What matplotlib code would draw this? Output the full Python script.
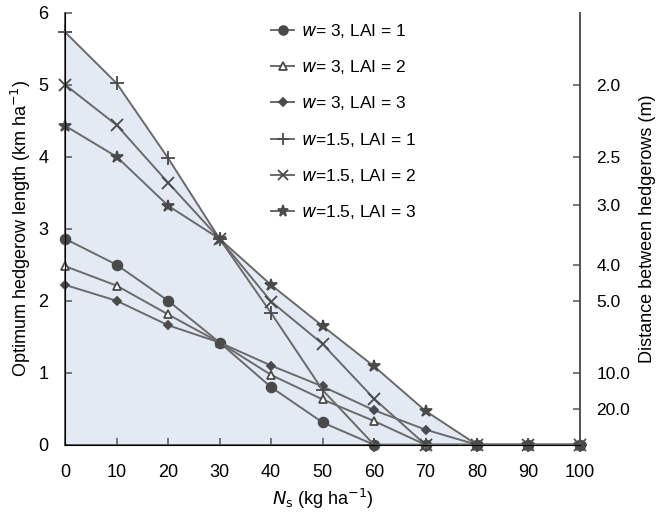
import matplotlib.pyplot as plt
import numpy as np

# nitrogen supply (kg/ha)
ns = [0, 10, 20, 30, 40, 50, 60, 70, 80, 90, 100]

# optimum hedgerow length (km/ha)
w3_lai1 = [2.86, 2.50, 2.00, 1.42, 0.80, 0.31, 0, 0, 0, 0, 0]
w3_lai2 = [2.48, 2.21, 1.81, 1.42, 0.97, 0.63, 0.33, 0, 0, 0, 0]
w3_lai3 = [2.22, 2.00, 1.66, 1.42, 1.10, 0.81, 0.48, 0.21, 0, 0, 0]
w15_lai1 = [5.73, 5.02, 3.98, 2.86, 1.83, 0.76, 0, 0, 0, 0, 0]
w15_lai2 = [5.00, 4.44, 3.64, 2.86, 1.99, 1.40, 0.64, 0, 0, 0, 0]
w15_lai3 = [4.43, 4.00, 3.32, 2.86, 2.22, 1.65, 1.09, 0.47, 0, 0, 0]

labels = ["$w$= 3, LAI = 1", "$w$= 3, LAI = 2", "$w$= 3, LAI = 3",
          "$w$=1.5, LAI = 1", "$w$=1.5, LAI = 2", "$w$=1.5, LAI = 3"]
markers = ["o", "^", "D", "+", "x", "*"]

# right axis: spacing between hedgerows (m)
dist_ticks = [2.0, 2.5, 3.0, 4.0, 5.0, 10.0, 20.0]

plt.rcParams['font.family'] = ['Liberation Sans', 'DejaVu Sans']

fig = plt.figure(figsize=(6.59, 5.13), dpi=100)
ax = fig.add_axes([0.099, 0.133, 0.781, 0.842])

series = [w3_lai1, w3_lai2, w3_lai3, w15_lai1, w15_lai2, w15_lai3]

# light blue shading under the curves, like the scan
env = np.max(np.array(series), axis=0)
ax.fill_between(ns, 0, env, color="#e4eaf4", lw=0, zorder=0)

for ys, lab, m in zip(series, labels, markers):
    mfc = "white" if m == "^" else "#4a4a4a"
    ms = {"o": 7, "^": 6, "D": 4.5, "+": 10, "x": 8, "*": 9}[m]
    ax.plot(ns, ys, color="#6a6a6a", lw=1.4, marker=m, ms=ms,
            mfc=mfc, mec="#4a4a4a", mew=1.3, label=lab, clip_on=False,
            zorder=3)

ax.set_xlim(0, 100)
ax.set_ylim(0, 6)
ax.set_xticks(ns)
ax.set_yticks(range(7))
ax.spines["top"].set_visible(False)
for s in ["left", "bottom", "right"]:
    ax.spines[s].set_color("#555555")
    ax.spines[s].set_linewidth(1.3)
ax.tick_params(direction="in", length=5, width=1.1, color="#555555",
               labelsize=13, pad=14)
ax.tick_params(axis="y", pad=12)

ax.set_xlabel("$N_\\mathrm{s}$ (kg ha$^{-1}$)", fontsize=13, labelpad=4)
ax.set_ylabel("Optimum hedgerow length (km ha$^{-1}$)", fontsize=13,
              labelpad=4)

ax2 = ax.twinx()
ax2.set_ylim(0, 6)
ax2.set_yticks([10 / d for d in dist_ticks])
ax2.set_yticklabels([f"{d:.1f}" for d in dist_ticks])
ax2.spines["top"].set_visible(False)
ax2.spines["right"].set_color("#555555")
ax2.spines["right"].set_linewidth(1.3)
ax2.tick_params(direction="in", length=5, width=1.1, color="#555555",
                labelsize=12.5, pad=12)
ax2.set_ylabel("Distance between hedgerows (m)", fontsize=13, labelpad=6)

ax.legend(loc="upper left", bbox_to_anchor=(0.37, 1.015), frameon=False,
          fontsize=12.5, handlelength=1.3, handletextpad=0.4,
          labelspacing=1.05, markerscale=0.9)

fig.savefig("out.png", dpi=100)
